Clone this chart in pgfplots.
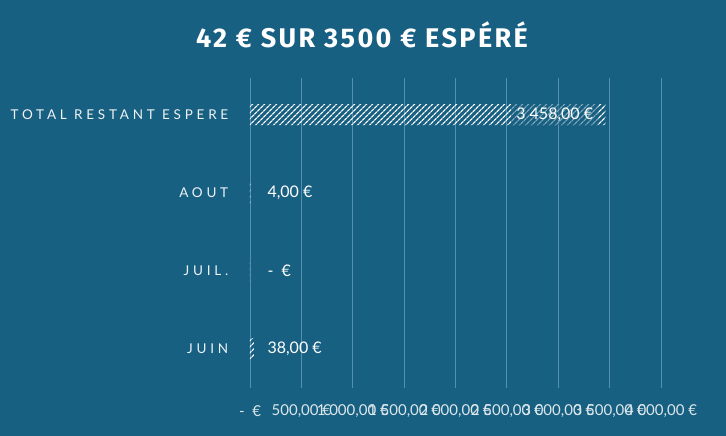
\documentclass[border=0pt]{standalone}
\usepackage{pgfplots}
\pgfplotsset{compat=1.18}
\usetikzlibrary{patterns.meta}
\usepackage{fontspec}
\setmainfont{Lato}
\newfontfamily\titlefont[LetterSpace=9]{Fira Sans Bold}
\newfontfamily\catfont[LetterSpace=28]{Lato}
\definecolor{bg}{HTML}{186082}
\definecolor{gridc}{HTML}{5390B0}
\begin{document}
\begin{tikzpicture}
\fill[bg] (0,0) rectangle (726pt,436pt);
\node[text=white,font=\titlefont\fontsize{27}{32}\selectfont] at (362pt,401pt) {42 € SUR 3500 € ESPÉRÉ};
\begin{axis}[
    at={(250pt,48pt)}, anchor=south west,
    scale only axis,
    width=411pt, height=310pt,
    xmin=0, xmax=4000,
    ymin=-0.5, ymax=3.47,
    xbar, bar width=21pt,
    axis line style={draw=none},
    tick style={draw=none},
    xmajorgrids, grid style={gridc, line width=0.8pt},
    xtick={0,500,1000,1500,2000,2500,3000,3500,4000},
    xticklabels={{-\ \ €},{500,00 €},{1 000,00 €},{1 500,00 €},{2 000,00 €},{2 500,00 €},{3 000,00 €},{3 500,00 €},{4 000,00 €}},
    xticklabel style={anchor=center, yshift=-23pt, text=white!85!bg, font=\fontsize{15}{17}\selectfont},
    ytick={0,1,2,3},
    yticklabels={JUIN,JUIL.,AOUT,TOTAL RESTANT ESPERE},
    yticklabel style={text=white!92!bg, font=\catfont\fontsize{13.5}{16}\selectfont, xshift=-14pt},
    clip=false,
]
\addplot[draw=none, pattern={Lines[angle=45,distance=4pt,line width=1.3pt]}, pattern color=white]
    coordinates {(38,0) (0,1) (4,2) (3458,3)};
\node[anchor=west, text=white, font=\fontsize{16}{18}\selectfont, xshift=14pt] at (axis cs:0,0) {38,00 €};
\node[anchor=west, text=white, font=\fontsize{16}{18}\selectfont, xshift=14pt] at (axis cs:0,1) {-\ \ €};
\node[anchor=west, text=white, font=\fontsize{16}{18}\selectfont, xshift=14pt] at (axis cs:0,2) {4,00 €};
\node[anchor=east, fill=bg, fill opacity=0.55, text opacity=1, text=white, minimum height=21pt, inner xsep=5pt, inner ysep=0pt, font=\fontsize{16}{18}\selectfont, xshift=-7pt] at (axis cs:3458,3) {3 458,00 €};
\end{axis}
\end{tikzpicture}
\end{document}
